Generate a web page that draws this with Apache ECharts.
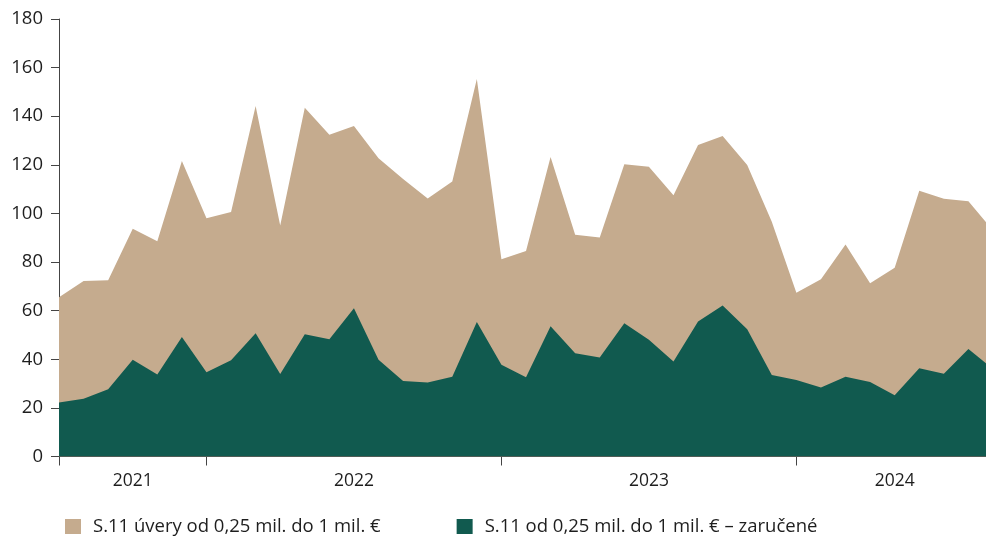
<!DOCTYPE html>
<html>
<head>
<meta charset="utf-8">
<script src="https://cdn.jsdelivr.net/npm/echarts@6/dist/echarts.min.js"></script>
<style>
html,body{margin:0;padding:0;background:#fff;overflow:hidden;}
/* the plot continues slightly past the visible right edge, as in the reference */
#chart{width:1000px;height:536px;}
</style>
</head>
<body>
<div id="chart"></div>
<script>
// Months Jul 2021 .. Sep 2024 (last point lies just beyond the visible right edge)
const months = [
  '2021-07','2021-08','2021-09','2021-10','2021-11','2021-12',
  '2022-01','2022-02','2022-03','2022-04','2022-05','2022-06','2022-07','2022-08','2022-09','2022-10','2022-11','2022-12',
  '2023-01','2023-02','2023-03','2023-04','2023-05','2023-06','2023-07','2023-08','2023-09','2023-10','2023-11','2023-12',
  '2024-01','2024-02','2024-03','2024-04','2024-05','2024-06','2024-07','2024-08','2024-09'
];
const seriesNames = ['S.11 úvery od 0,25 mil. do 1 mil. €', 'S.11 od 0,25 mil. do 1 mil. € – zaručené'];
const totalLoans = [
  65.5, 72.2, 72.5, 93.7, 88.6, 121.6,
  98, 100.6, 144.2, 95, 143.5, 132.4, 136, 122.7, 114.2, 106.1, 113.1, 155.3,
  81.2, 84.6, 123.2, 91.2, 90.1, 120.2, 119.2, 107.5, 128.2, 131.9, 119.9, 96.6,
  67.4, 72.9, 87.2, 71.3, 77.7, 109.3, 106, 105, 93
];
const guaranteed = [
  22.2, 23.8, 27.7, 39.8, 33.7, 49.2,
  34.7, 39.6, 50.7, 33.9, 50.3, 48.2, 61, 39.8, 31.1, 30.4, 32.8, 55.3,
  37.7, 32.6, 53.6, 42.5, 40.7, 54.8, 48, 39.1, 55.5, 62.1, 52.4, 33.5,
  31.5, 28.4, 32.8, 30.7, 25.2, 36.3, 34, 44.2, 36
];
const yearLabelIdx = [3, 12, 24, 34];
const yearTickIdx = [0, 6, 18, 30];

const colors = ['#C5AB8E', '#115A4F'];
const FONT = '"Open Sans", "Noto Sans", sans-serif';

const chart = echarts.init(document.getElementById('chart'), null, {renderer: 'canvas'});
chart.setOption({
  animation: false,
  color: colors,
  grid: {left: 59, width: 934, top: 19, height: 437.5, containLabel: false},
  legend: {
    data: seriesNames,
    left: 60, top: 512,
    icon: 'rect', itemWidth: 16, itemHeight: 15, itemGap: 76,
    textStyle: {fontFamily: FONT, fontSize: 18.5, color: '#1e1e1e', padding: [0, 0, 0, 7]}
  },
  xAxis: {
    type: 'category',
    data: months,
    boundaryGap: false,
    axisLine: {lineStyle: {color: '#444', width: 1}},
    axisTick: {show: true, length: 9, lineStyle: {color: '#444'},
      interval: (i) => yearTickIdx.includes(i)},
    axisLabel: {
      interval: (i) => yearLabelIdx.includes(i),
      formatter: (v) => v.slice(0, 4),
      fontFamily: FONT, fontSize: 17.5, color: '#1e1e1e', margin: 16
    },
    splitLine: {show: false}
  },
  yAxis: {
    type: 'value', min: 0, max: 180, interval: 20,
    axisLine: {show: true, lineStyle: {color: '#444', width: 1}},
    axisTick: {show: true, length: 8, lineStyle: {color: '#444'}},
    axisLabel: {fontFamily: FONT, fontSize: 18.5, color: '#1e1e1e', margin: 16},
    splitLine: {show: false}
  },
  series: [
    {name: seriesNames[0], type: 'line', data: totalLoans, symbol: 'none',
     lineStyle: {width: 0}, areaStyle: {color: colors[0], opacity: 1}, z: 1},
    {name: seriesNames[1], type: 'line', data: guaranteed, symbol: 'none',
     lineStyle: {width: 0}, areaStyle: {color: colors[1], opacity: 1}, z: 2}
  ]
});
</script>
</body>
</html>
